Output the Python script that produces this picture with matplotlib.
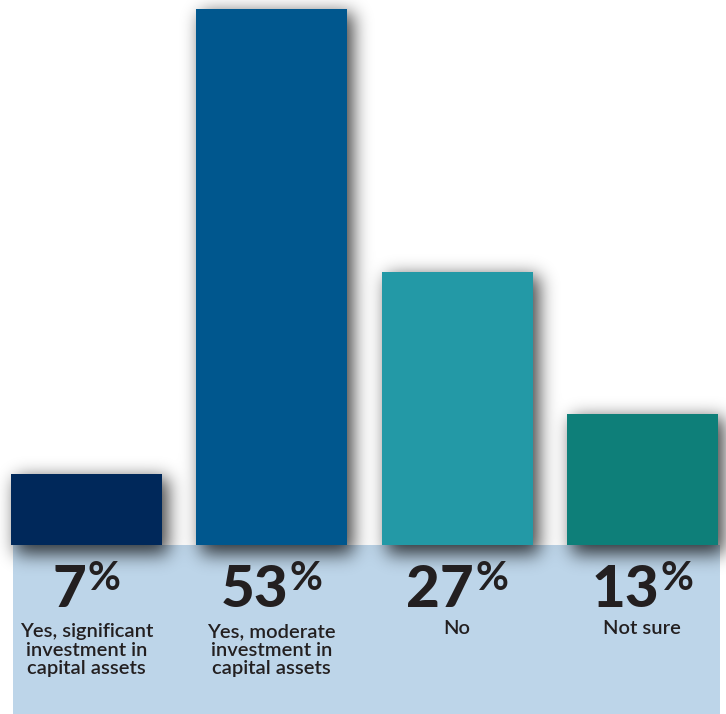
import matplotlib
matplotlib.use("Agg")
import matplotlib.pyplot as plt
import matplotlib.transforms as mtransforms
from matplotlib.patches import Rectangle
import numpy as np

values = [7, 53, 27, 13]
labels = ["Yes, significant\ninvestment in\ncapital assets",
          "Yes, moderate\ninvestment in\ncapital assets",
          "No",
          "Not sure"]
colors = ["#00285A", "#00578E", "#2399A6", "#0E7F79"]

W, H, DPI = 726, 714, 100
fig = plt.figure(figsize=(W / DPI, H / DPI), dpi=DPI)
fig.patch.set_facecolor("white")
ax = fig.add_axes([0, 0, 1, 1])
ax.axis("off")
ax.set_xlim(-0.467, 3.451)
ax.set_ylim(-16.72, 53.9)

x = np.arange(len(values))
bar_w = 0.815

# light blue band under the bars
band = mtransforms.blended_transform_factory(ax.transAxes, ax.transData)
ax.add_patch(Rectangle((0.018, -16.72), 0.974, 16.72, transform=band,
                       facecolor="#BDD5E9", edgecolor="none", zorder=1))

bars = ax.bar(x, values, width=bar_w, color=colors, zorder=3)

# soft drop shadow: blurred mask of the bars, shifted down-right
mask = np.zeros((H, W))
for b in bars:
    (x0, y0), (x1, y1) = ax.transData.transform(
        [(b.get_x(), 0), (b.get_x() + b.get_width(), b.get_height())])
    c0, c1 = int(round(x0)) + 5, int(round(x1)) + 6
    r0, r1 = int(round(H - y1)) + 4, int(round(H - y0)) + 9
    mask[max(r0, 0):min(r1, H), max(c0, 0):min(c1, W)] = 1.0

def blur(a, s):
    r = int(3 * s)
    k = np.exp(-0.5 * (np.arange(-r, r + 1) / s) ** 2)
    k /= k.sum()
    a = np.apply_along_axis(lambda m: np.convolve(m, k, mode="same"), 0, a)
    a = np.apply_along_axis(lambda m: np.convolve(m, k, mode="same"), 1, a)
    return a

mask = blur(mask, 9)
shadow = np.zeros((H, W, 4))
shadow[..., 3] = mask * 0.75
ax.imshow(shadow, extent=(*ax.get_xlim(), *ax.get_ylim()), origin="upper",
          aspect="auto", zorder=2, interpolation="bilinear")

fig.canvas.draw()
renderer = fig.canvas.get_renderer()

txt = "#231F20"
for xi, v, lab in zip(x, values, labels):
    num = ax.annotate(f"{v}", xy=(xi, 0), xytext=(0, -62), textcoords="offset pixels",
                      ha="left", va="baseline", fontsize=42, family="Lato",
                      weight="black", color=txt, zorder=4)
    pct = ax.annotate("%", xy=(xi, 0), xytext=(0, -45), textcoords="offset pixels",
                      ha="left", va="baseline", fontsize=29, family="Lato",
                      weight="bold", color=txt, zorder=4)
    wn = num.get_window_extent(renderer).width
    wp = pct.get_window_extent(renderer).width
    total = wn + wp + 1
    num.xyann = (-total / 2, -62)
    pct.xyann = (-total / 2 + wn + 1, -45)
    # baseline alignment of multi-line text sits on the last line
    nlines = lab.count("\n")
    ax.annotate(lab, xy=(xi, 0), xytext=(0, -89 - 20 * nlines), textcoords="offset pixels",
                ha="center", va="baseline", fontsize=14.5, family="Lato",
                weight="semibold", color=txt, linespacing=1.1, zorder=4)

fig.savefig("out.png", dpi=DPI, facecolor="white")
